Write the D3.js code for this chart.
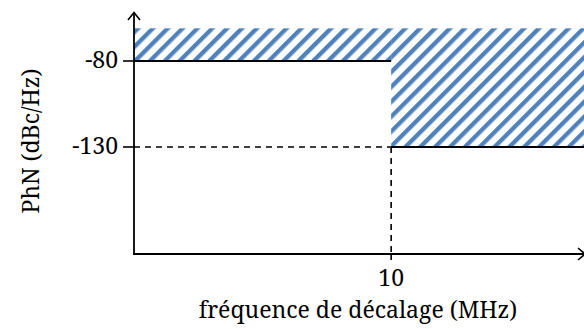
<!DOCTYPE html>
<html><head><meta charset="utf-8">
<script src="https://cdn.jsdelivr.net/npm/d3@7"></script>
<style>body{margin:0;background:#fff}svg{display:block}</style>
</head><body>
<script>
// data
const xTicks = [10];
const yTicks = [-80, -130];
const maskLimits = [ {x0: 0, x1: 10, y: -80}, {x0: 10, x1: 17.5, y: -130} ];
const hatchTop = -61;
const xLabel = "fréquence de décalage (MHz)";
const yLabel = "PhN (dBc/Hz)";

const W = 584, H = 329;
const svg = d3.select("body").append("svg").attr("width", W).attr("height", H);
const x = d3.scaleLinear().domain([0, 17.5]).range([134, 584]);
const y = d3.scaleLinear().domain([-80, -130]).range([61, 147]);
const yBottom = 254;
const font = "'Noto Serif', 'DejaVu Serif', serif";
const fs = 23;

const defs = svg.append("defs");
const per = 10.5;
const pat = defs.append("pattern").attr("id","hatch").attr("patternUnits","userSpaceOnUse")
  .attr("width", per).attr("height", per).attr("patternTransform","rotate(45)");
pat.append("rect").attr("x",0).attr("y",0).attr("width",4.3).attr("height",per).attr("fill","#4f81bd");

// hatched regions
svg.selectAll("rect.mask").data(maskLimits).join("rect")
  .attr("x", d => x(d.x0)).attr("width", d => x(d.x1) - x(d.x0))
  .attr("y", y(hatchTop)).attr("height", d => y(d.y) - y(hatchTop))
  .attr("fill", "url(#hatch)");

// limit lines
svg.selectAll("line.lim").data(maskLimits).join("line")
  .attr("x1", d => x(d.x0)).attr("x2", d => x(d.x1))
  .attr("y1", d => y(d.y)).attr("y2", d => y(d.y))
  .attr("stroke","#000").attr("stroke-width",1.8);

// dashed guides
svg.append("line").attr("x1", x(0)).attr("x2", x(10)).attr("y1", y(-130)).attr("y2", y(-130))
  .attr("stroke","#000").attr("stroke-width",1.6).attr("stroke-dasharray","6,5");
svg.append("line").attr("x1", x(10)).attr("x2", x(10)).attr("y1", y(-130)).attr("y2", yBottom)
  .attr("stroke","#000").attr("stroke-width",1.6).attr("stroke-dasharray","6,5");

// axes
svg.append("line").attr("x1", x(0)).attr("x2", x(0)).attr("y1", yBottom).attr("y2", 13)
  .attr("stroke","#000").attr("stroke-width",1.8);
svg.append("path").attr("d", `M${x(0)-6},20 L${x(0)},12.5 L${x(0)+6},20`).attr("fill","none").attr("stroke","#000").attr("stroke-width",1.6);
svg.append("line").attr("x1", x(0)-1).attr("x2", W).attr("y1", yBottom).attr("y2", yBottom)
  .attr("stroke","#000").attr("stroke-width",1.8);
svg.append("path").attr("d", `M${W-6},${yBottom-6} L${W+1},${yBottom} L${W-6},${yBottom+6}`).attr("fill","none").attr("stroke","#000").attr("stroke-width",1.6);

// y ticks
svg.selectAll("line.yt").data(yTicks).join("line")
  .attr("x1", x(0)-11).attr("x2", x(0)).attr("y1", d => y(d)).attr("y2", d => y(d))
  .attr("stroke","#000").attr("stroke-width",1.6);
svg.selectAll("text.yt").data(yTicks).join("text")
  .attr("x", 118).attr("y", d => y(d)+7).attr("text-anchor","end")
  .attr("font-family", font).attr("font-size", fs).text(d => d);

// x ticks
svg.selectAll("line.xt").data(xTicks).join("line")
  .attr("x1", d => x(d)).attr("x2", d => x(d)).attr("y1", yBottom).attr("y2", yBottom+6)
  .attr("stroke","#000").attr("stroke-width",1.6);
svg.selectAll("text.xt").data(xTicks).join("text")
  .attr("x", d => x(d)).attr("y", 286).attr("text-anchor","middle")
  .attr("font-family", font).attr("font-size", fs).text(d => d);

svg.append("text").attr("x", 358).attr("y", 318).attr("text-anchor","middle")
  .attr("font-family", font).attr("font-size", fs).text(xLabel);
svg.append("text").attr("transform","translate(39,141) rotate(-90)").attr("text-anchor","middle")
  .attr("font-family", font).attr("font-size", fs).text(yLabel);
</script>
</body></html>
